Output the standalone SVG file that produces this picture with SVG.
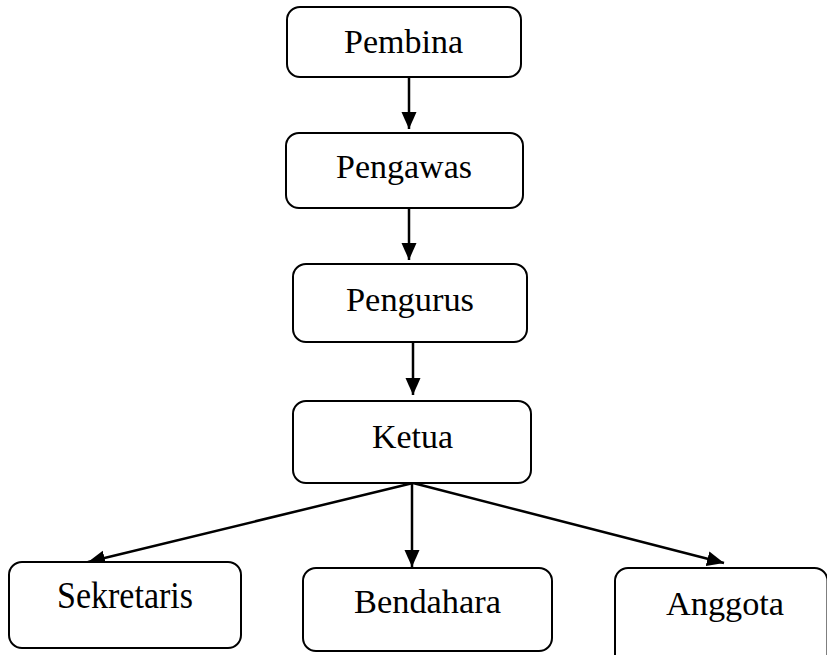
<svg xmlns="http://www.w3.org/2000/svg" width="827" height="655" viewBox="0 0 827 655">
<defs>
<style>
.box{fill:#fff;stroke:#000;stroke-width:2}
.lbl{font-family:"Liberation Serif","Times New Roman",serif;fill:#000}
.conn{stroke:#000;stroke-width:2.5;fill:none}
</style>
<marker id="ah" markerUnits="userSpaceOnUse" markerWidth="17" markerHeight="16" viewBox="0 0 17 15" refX="17" refY="7.5" orient="auto">
<path d="M0,0 L17,7.5 L0,15 Z" fill="#000"/>
</marker>
</defs>
<rect width="827" height="655" fill="#fff"/>
<g id="connectors">
<line class="conn" x1="409" y1="77" x2="409" y2="129" marker-end="url(#ah)"/>
<line class="conn" x1="409" y1="208" x2="409" y2="260" marker-end="url(#ah)"/>
<line class="conn" x1="413" y1="342" x2="413" y2="395" marker-end="url(#ah)"/>
<line class="conn" x1="413" y1="483" x2="88" y2="562" marker-end="url(#ah)"/>
<line class="conn" x1="412" y1="483" x2="412" y2="567" marker-end="url(#ah)"/>
<line class="conn" x1="413" y1="483" x2="724" y2="563" marker-end="url(#ah)"/>
</g>
<g id="pembina">
<rect class="box" x="287" y="7" width="234" height="70" rx="13"/>
<text class="lbl" x="344" y="53" font-size="33" textLength="119" lengthAdjust="spacingAndGlyphs">Pembina</text>
</g>
<g id="pengawas">
<rect class="box" x="286" y="133" width="237" height="75" rx="13"/>
<text class="lbl" x="336" y="178" font-size="33" textLength="136" lengthAdjust="spacingAndGlyphs">Pengawas</text>
</g>
<g id="pengurus">
<rect class="box" x="293" y="264" width="234" height="78" rx="13"/>
<text class="lbl" x="346" y="311" font-size="34" textLength="128" lengthAdjust="spacingAndGlyphs">Pengurus</text>
</g>
<g id="ketua">
<rect class="box" x="293" y="401" width="238" height="82" rx="13"/>
<text class="lbl" x="372" y="448" font-size="34" textLength="81" lengthAdjust="spacingAndGlyphs">Ketua</text>
</g>
<g id="sekretaris">
<rect class="box" x="9" y="562" width="232" height="86" rx="13"/>
<text class="lbl" x="57" y="608" font-size="37" textLength="136" lengthAdjust="spacingAndGlyphs">Sekretaris</text>
</g>
<g id="bendahara">
<rect class="box" x="303" y="568" width="249" height="83" rx="13"/>
<text class="lbl" x="354" y="613" font-size="34" textLength="147" lengthAdjust="spacingAndGlyphs">Bendahara</text>
</g>
<g id="anggota">
<rect class="box" x="615" y="568" width="212.5" height="100" rx="13"/>
<text class="lbl" x="666" y="615" font-size="34" textLength="118" lengthAdjust="spacingAndGlyphs">Anggota</text>
</g>
</svg>
